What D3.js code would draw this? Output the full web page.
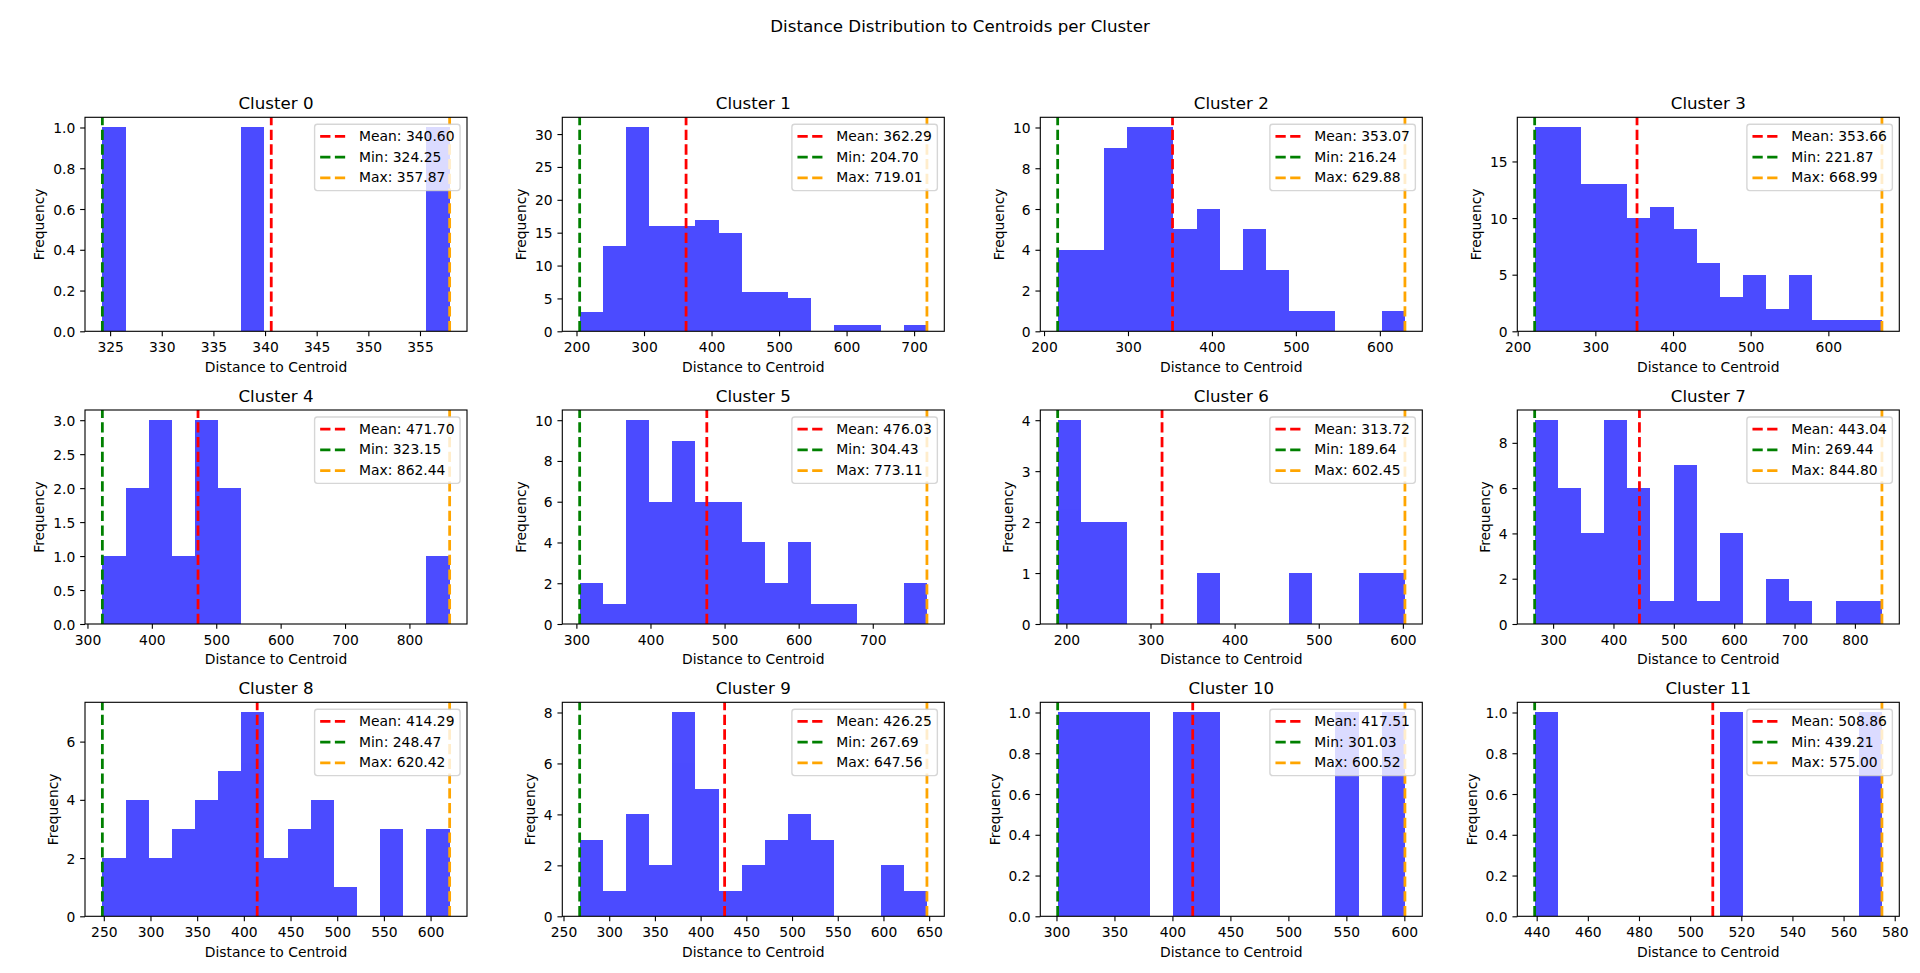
<!DOCTYPE html>
<html><head><meta charset="utf-8">
<script src="https://cdn.jsdelivr.net/npm/d3@7"></script>
<style>
body{margin:0;background:#fff}
svg{display:block}
text{font-family:"DejaVu Sans",sans-serif;fill:#000}
</style>
</head><body>
<svg id="chart" width="1920" height="973"></svg>
<script>
// ---------------- data ----------------
const clusterIds = [0,1,2,3,4,5,6,7,8,9,10,11];
const meanValues = [340.60,362.29,353.07,353.66,471.70,476.03,313.72,443.04,414.29,426.25,417.51,508.86];
const minValues  = [324.25,204.70,216.24,221.87,323.15,304.43,189.64,269.44,248.47,267.69,301.03,439.21];
const maxValues  = [357.87,719.01,629.88,668.99,862.44,773.11,602.45,844.80,620.42,647.56,600.52,575.00];
const binCounts = [
  [1,0,0,0,0,0,1,0,0,0,0,0,0,0,1],
  [3,13,31,16,16,17,15,6,6,5,0,1,1,0,1],
  [4,4,9,10,10,5,6,3,5,3,1,1,0,0,1],
  [18,18,13,13,10,11,9,6,3,5,2,5,1,1,1],
  [1,2,3,1,3,2,0,0,0,0,0,0,0,0,1],
  [2,1,10,6,9,6,6,4,2,4,1,1,0,0,2],
  [4,2,2,0,0,0,1,0,0,0,1,0,0,1,1],
  [9,6,4,9,6,1,7,1,4,0,2,1,0,1,1],
  [2,4,2,3,4,5,7,2,3,4,1,0,3,0,3],
  [3,1,4,2,8,5,1,2,3,4,3,0,0,2,1],
  [1,1,1,1,0,1,1,0,0,0,0,0,1,0,1],
  [1,0,0,0,0,0,0,0,1,0,0,0,0,0,1]
];
const xTickValues = [
  [325,330,335,340,345,350,355],
  [200,300,400,500,600,700],
  [200,300,400,500,600],
  [200,300,400,500,600],
  [300,400,500,600,700,800],
  [300,400,500,600,700],
  [200,300,400,500,600],
  [300,400,500,600,700,800],
  [250,300,350,400,450,500,550,600],
  [250,300,350,400,450,500,550,600,650],
  [300,350,400,450,500,550,600],
  [440,460,480,500,520,540,560,580]
];
const yTickLabels = [
  ["0.0","0.2","0.4","0.6","0.8","1.0"],
  ["0","5","10","15","20","25","30"],
  ["0","2","4","6","8","10"],
  ["0","5","10","15"],
  ["0.0","0.5","1.0","1.5","2.0","2.5","3.0"],
  ["0","2","4","6","8","10"],
  ["0","1","2","3","4"],
  ["0","2","4","6","8"],
  ["0","2","4","6"],
  ["0","2","4","6","8"],
  ["0.0","0.2","0.4","0.6","0.8","1.0"],
  ["0.0","0.2","0.4","0.6","0.8","1.0"]
];
const figTitle = "Distance Distribution to Centroids per Cluster";
const xLabel = "Distance to Centroid";
const yLabel = "Frequency";
const nBins = 15;

// ---------------- layout ----------------
const colLeft = [85, 562.3, 1040.3, 1517.3];
const rowTop = [117.3, 410, 702.3];
const axW = 382, axH = 214;
const PT = 100/72;
const fs = 10*PT;             // 13.89px
const titleFs = 12*PT;
const lineW = 2*PT;
const dash = [3.7*2*PT, 1.6*2*PT].join(",");
const lineColors = {mean:"red", min:"green", max:"orange"};

const svg = d3.select("#chart");

svg.append("text")
  .attr("x", 960).attr("y", 32)
  .attr("text-anchor","middle")
  .style("font-size", titleFs+"px")
  .text(figTitle);

clusterIds.forEach((cid, i) => {
  const r = Math.floor(i/4), c = i%4;
  const g = svg.append("g").attr("transform", `translate(${colLeft[c]},${rowTop[r]})`);
  const mn = minValues[i], mx = maxValues[i], rng = mx - mn;
  const counts = binCounts[i];
  const edge = d3.scaleLinear().domain([0, nBins]).range([mn, mx]);
  const x = d3.scaleLinear().domain([mn - 0.05*rng, mx + 0.05*rng]).range([0, axW]);
  const y = d3.scaleLinear().domain([0, 1.05*d3.max(counts)]).range([axH, 0]);

  // bars
  g.append("g").attr("opacity", 0.7).attr("shape-rendering", "crispEdges")
    .selectAll("rect").data(counts).join("rect")
    .attr("x", (d,k) => x(edge(k)))
    .attr("width", (d,k) => x(edge(k+1)) - x(edge(k)))
    .attr("y", d => y(d))
    .attr("height", d => axH - y(d))
    .attr("fill", "blue");

  // vertical lines
  const lines = [
    {key:"mean", v: meanValues[i], label: "Mean: " + meanValues[i].toFixed(2)},
    {key:"min",  v: mn, label: "Min: " + mn.toFixed(2)},
    {key:"max",  v: mx, label: "Max: " + mx.toFixed(2)}
  ];
  g.append("g").selectAll("line").data(lines).join("line")
    .attr("x1", d => x(d.v)).attr("x2", d => x(d.v))
    .attr("y1", axH).attr("y2", 0)
    .attr("stroke", d => lineColors[d.key])
    .attr("stroke-width", lineW)
    .attr("stroke-dasharray", dash);

  // spines
  g.append("rect").attr("x",0).attr("y",0).attr("width",axW).attr("height",axH)
    .attr("fill","none").attr("stroke","#000").attr("stroke-width",0.8*PT);

  // axes
  const xa = g.append("g").attr("transform", `translate(0,${axH})`)
    .call(d3.axisBottom(x).tickValues(xTickValues[i]).tickFormat(d3.format("d"))
      .tickSize(3.5*PT).tickPadding(6));
  const yVals = yTickLabels[i].map(Number);
  const ya = g.append("g")
    .call(d3.axisLeft(y).tickValues(yVals).tickFormat((d,k) => yTickLabels[i][k])
      .tickSize(3.5*PT).tickPadding(3.5*PT));
  [xa, ya].forEach(a => {
    a.select(".domain").remove();
    a.selectAll("line").attr("stroke","#000").attr("stroke-width",0.8*PT);
    a.selectAll("text").style("font-size", fs+"px").attr("font-family", null).attr("fill","#000");
  });
  ya.selectAll("text").attr("dy", "0.36em");

  // title
  g.append("text").attr("x", axW/2).attr("y", -8.3)
    .attr("text-anchor","middle").style("font-size", titleFs+"px")
    .text("Cluster " + cid);

  // x label
  g.append("text").attr("x", axW/2).attr("y", axH + 40.3)
    .attr("text-anchor","middle").style("font-size", fs+"px")
    .text(xLabel);

  // y label
  let minX = 0;
  ya.selectAll("text").each(function(){ const b = this.getBBox(); minX = Math.min(minX, b.x); });
  const xb = minX - 4*PT - 3.3;
  g.append("text").attr("transform", `translate(${xb},${axH/2}) rotate(-90)`)
    .attr("text-anchor","middle").style("font-size", fs+"px")
    .text(yLabel);

  // legend
  const lg = g.append("g");
  const bp = 0.4*fs, ls = 0.5*fs, hl = 2*fs, htp = 0.8*fs, bap = 0.5*fs, rowH = 13.8;
  const texts = lg.selectAll("text.lt").data(lines).join("text").attr("class","lt")
    .style("font-size", fs+"px").text(d => d.label);
  let tw = 0;
  texts.each(function(){ tw = Math.max(tw, this.getComputedTextLength()); });
  const W = 2*bp + hl + htp + tw;
  const H = 2*bp + 3*rowH + 2*ls;
  const lx = axW - bap - W, ly = bap;
  lg.insert("rect", "text")
    .attr("x", lx).attr("y", ly).attr("width", W).attr("height", H)
    .attr("rx", 0.2*fs).attr("ry", 0.2*fs)
    .attr("fill", "#fff").attr("fill-opacity", 0.8)
    .attr("stroke", "#cccccc").attr("stroke-opacity", 0.8).attr("stroke-width", PT);
  const rowY = k => ly + bp + k*(rowH + ls);
  lg.selectAll("line").data(lines).join("line")
    .attr("x1", lx + bp).attr("x2", lx + bp + hl)
    .attr("y1", (d,k) => rowY(k) + 6.6).attr("y2", (d,k) => rowY(k) + 6.6)
    .attr("stroke", d => lineColors[d.key]).attr("stroke-width", lineW)
    .attr("stroke-dasharray", dash);
  texts.attr("x", lx + bp + hl + htp).attr("y", (d,k) => rowY(k) + 11.1);
});
</script>
</body></html>
